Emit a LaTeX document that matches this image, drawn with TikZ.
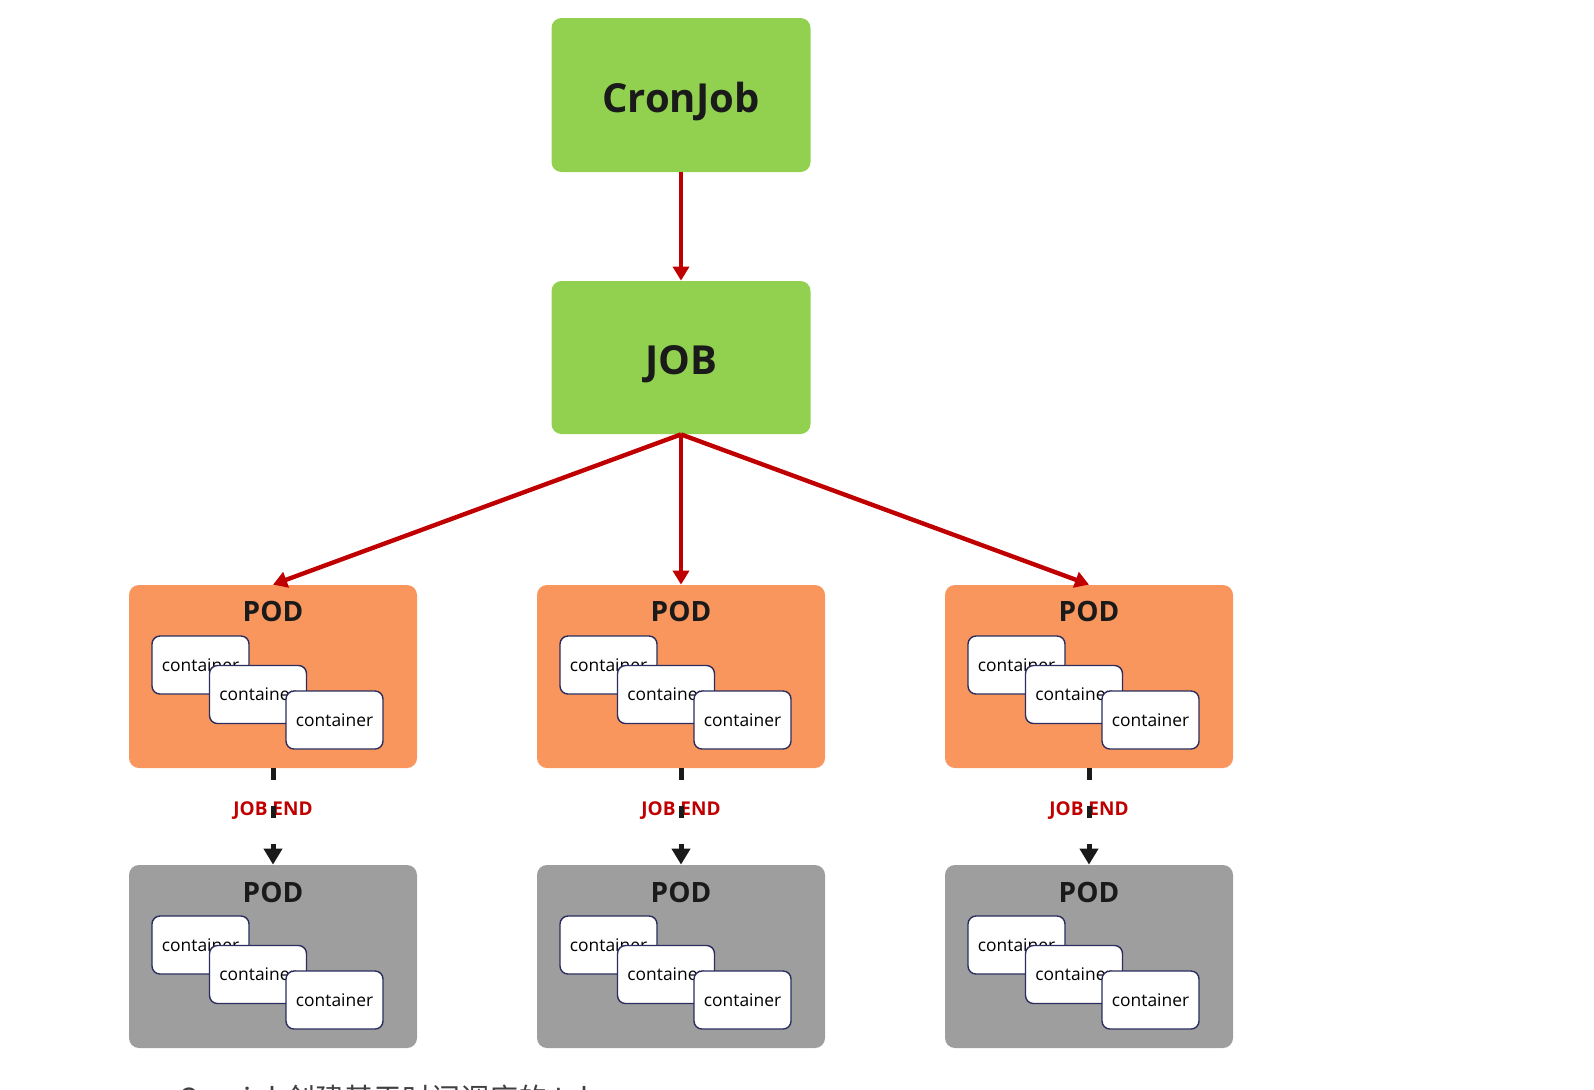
\documentclass[tikz,border=0pt]{standalone}
\usepackage{fontspec}
\setmainfont{Open Sans}
\newfontfamily\cjkfont{Noto Sans CJK SC}
\usetikzlibrary{arrows.meta}
\definecolor{jobGreen}{HTML}{92D050}
\definecolor{podOrange}{HTML}{F8965E}
\definecolor{podGray}{HTML}{9E9E9E}
\definecolor{arrowRed}{HTML}{C00000}
\definecolor{borderNavy}{HTML}{2A2D5E}
\definecolor{titleBlack}{HTML}{1A1A1A}
\def\podXSep{204pt}
\def\podYSep{140pt}
\tikzset{
  jobBox/.style={
    fill=jobGreen,
    rounded corners=5pt,
    minimum width=129.5pt,
    minimum height=77pt,
    inner sep=0pt,
    text height=17pt,
    text depth=0pt,
    text=titleBlack,
    font=\bfseries\fontsize{20}{24}\selectfont
  },
  podBox/.style={
    rounded corners=5pt,
    minimum width=144pt,
    minimum height=91.5pt,
    inner sep=0pt
  },
  podTitle/.style={
    inner sep=0pt,
    text=titleBlack,
    font=\bfseries\fontsize{14}{16}\selectfont
  },
  container/.style={
    draw=borderNavy,
    line width=0.7pt,
    fill=white,
    rounded corners=4pt,
    minimum width=48.5pt,
    minimum height=29pt,
    inner sep=0pt,
    font=\fontsize{8.7}{10}\selectfont
  },
  containerOne/.style={container,xshift=-36.25pt,yshift=5.75pt},
  containerTwo/.style={container,xshift=-7.5pt,yshift=-9pt},
  containerThree/.style={container,xshift=30.75pt,yshift=-21.75pt},
  redArrow/.style={
    draw=arrowRed,
    line width=2.2pt,
    -{Triangle[width=8pt,length=7pt]}
  },
  endArrow/.style={
    draw=titleBlack,
    line width=2.5pt,
    dash pattern=on 6pt off 13pt,
    -{Triangle[width=9pt,length=8pt]}
  },
  endLabel/.style={
    inner sep=0pt,
    text=arrowRed,
    font=\bfseries\fontsize{9.5}{11}\selectfont
  }
}

\begin{document}
\begin{tikzpicture}[x=0.5pt,y=-0.5pt]
    \useasboundingbox (0,0) rectangle (1594,1089);

    \node[jobBox] (cronjob) at (681,95) {CronJob};
    \node[jobBox,minimum height=76.5pt] (job) at (681,357.5) {JOB};
    \draw[redArrow] (cronjob.south) -- (job.north);

    % running pods
    \begin{scope}
      \node[podBox,fill=podOrange] (podA) at (273,676.5) {};
      \node[podTitle] (podAt) at ([yshift=-13.5pt]podA.north) {POD};
      \node[containerOne] (podAc1) at (podA.center) {container};
      \node[containerTwo] (podAc2) at (podA.center) {container};
      \node[containerThree] (podAc3) at (podA.center) {container};
    \end{scope}

    \begin{scope}[xshift=\podXSep]
      \node[podBox,fill=podOrange] (podB) at (273,676.5) {};
      \node[podTitle] (podBt) at ([yshift=-13.5pt]podB.north) {POD};
      \node[containerOne] (podBc1) at (podB.center) {container};
      \node[containerTwo] (podBc2) at (podB.center) {container};
      \node[containerThree] (podBc3) at (podB.center) {container};
    \end{scope}

    \begin{scope}[xshift=2*\podXSep]
      \node[podBox,fill=podOrange] (podC) at (273,676.5) {};
      \node[podTitle] (podCt) at ([yshift=-13.5pt]podC.north) {POD};
      \node[containerOne] (podCc1) at (podC.center) {container};
      \node[containerTwo] (podCc2) at (podC.center) {container};
      \node[containerThree] (podCc3) at (podC.center) {container};
    \end{scope}

    % finished pods
    \begin{scope}[yshift=-\podYSep]
      \node[podBox,fill=podGray] (doneA) at (273,676.5) {};
      \node[podTitle] (doneAt) at ([yshift=-14pt]doneA.north) {POD};
      \node[containerOne] (doneAc1) at (doneA.center) {container};
      \node[containerTwo] (doneAc2) at (doneA.center) {container};
      \node[containerThree] (doneAc3) at (doneA.center) {container};
    \end{scope}

    \begin{scope}[xshift=\podXSep,yshift=-\podYSep]
      \node[podBox,fill=podGray] (doneB) at (273,676.5) {};
      \node[podTitle] (doneBt) at ([yshift=-14pt]doneB.north) {POD};
      \node[containerOne] (doneBc1) at (doneB.center) {container};
      \node[containerTwo] (doneBc2) at (doneB.center) {container};
      \node[containerThree] (doneBc3) at (doneB.center) {container};
    \end{scope}

    \begin{scope}[xshift=2*\podXSep,yshift=-\podYSep]
      \node[podBox,fill=podGray] (doneC) at (273,676.5) {};
      \node[podTitle] (doneCt) at ([yshift=-14pt]doneC.north) {POD};
      \node[containerOne] (doneCc1) at (doneC.center) {container};
      \node[containerTwo] (doneCc2) at (doneC.center) {container};
      \node[containerThree] (doneCc3) at (doneC.center) {container};
    \end{scope}

    \draw[redArrow] (job.south) -- (podA.north);
    \draw[redArrow] (job.south) -- (podB.north);
    \draw[redArrow] (job.south) -- (podC.north);

    \node[endLabel] (endA) at (273,811) {JOB END};
    \node[endLabel] (endB) at (681,811) {JOB END};
    \node[endLabel] (endC) at (1089,811) {JOB END};
    \draw[endArrow] (podA.south) -- (doneA.north);
    \draw[endArrow] (podB.south) -- (doneB.north);
    \draw[endArrow] (podC.south) -- (doneC.north);

    \node[anchor=base west,inner sep=0pt,text=black!75,font=\cjkfont\fontsize{14.5}{17}\selectfont]
      (caption) at (178,1109) {Cronjob创建基于时间调度的Job};
\end{tikzpicture}
\end{document}
